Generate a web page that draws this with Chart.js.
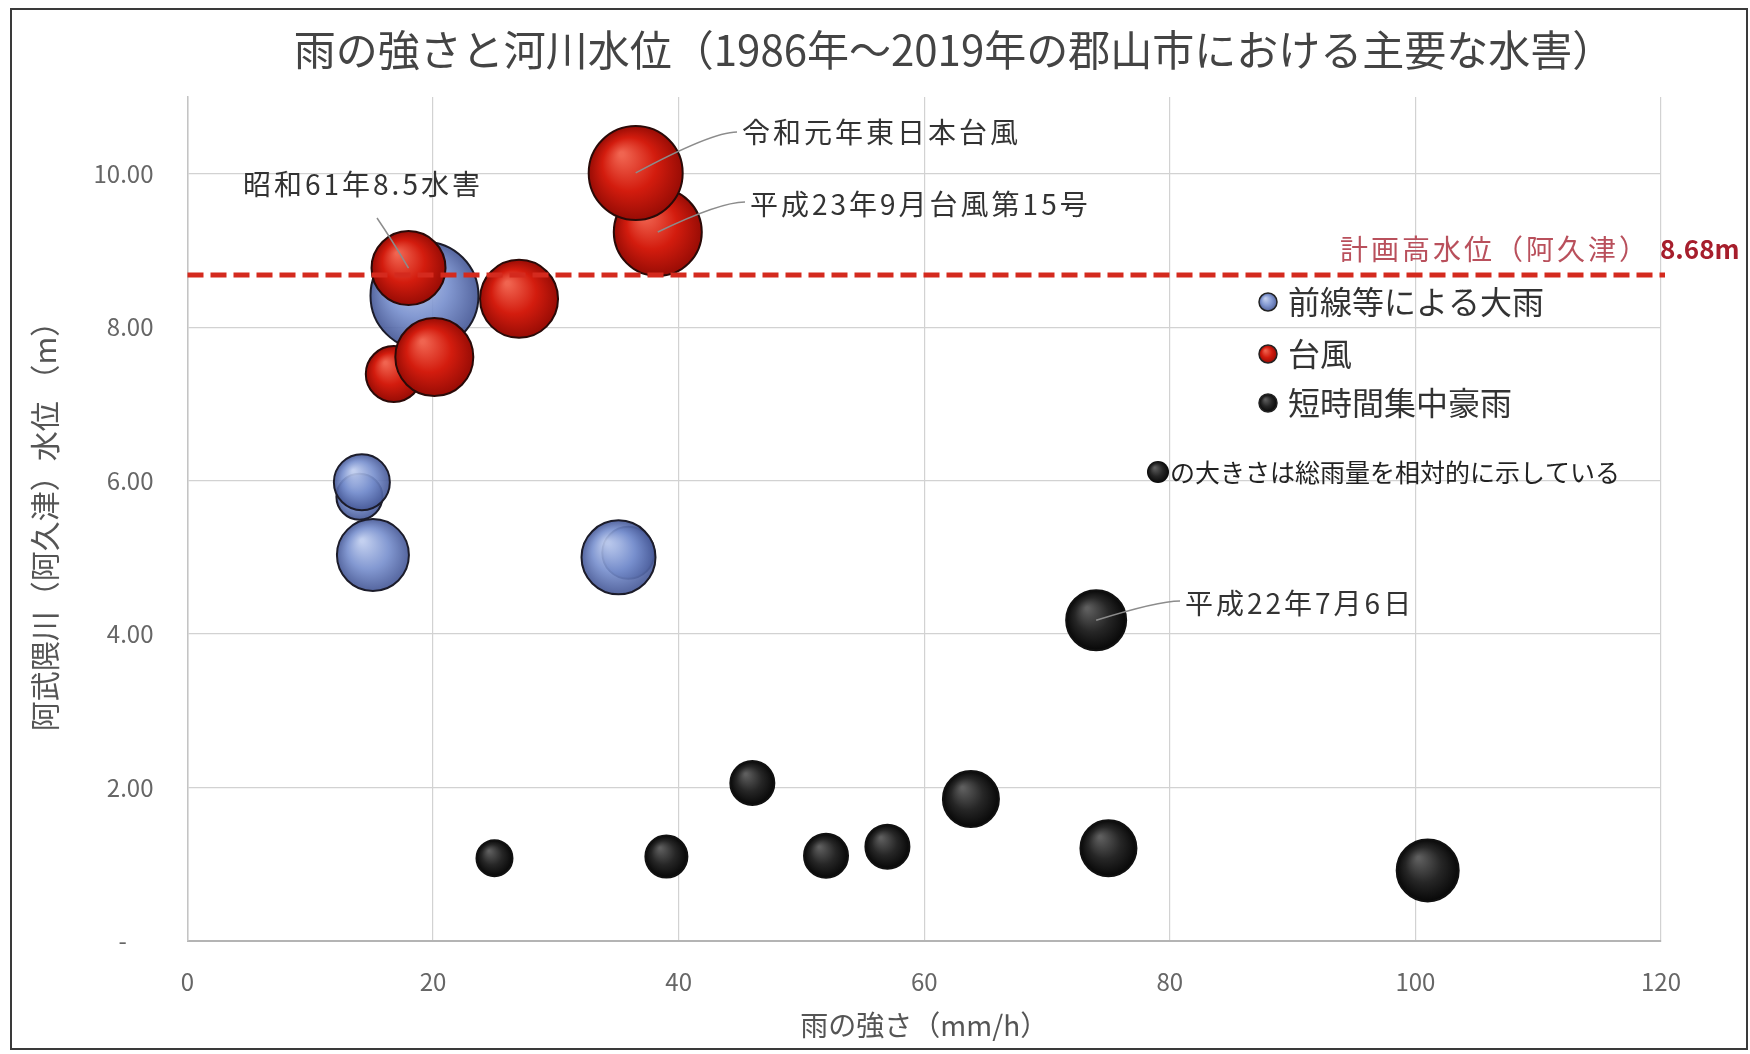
<!DOCTYPE html>
<html lang="ja">
<head>
<meta charset="utf-8">
<script src="https://cdn.jsdelivr.net/npm/chart.js@4.4.1/dist/chart.umd.min.js"></script>
<style>
  html, body { margin: 0; padding: 0; background: #fff; }
  #wrap { width: 1750px; height: 1054px; }
</style>
</head>
<body>
<div id="wrap"><canvas id="myChart"></canvas></div>
<script>
// 系列名
const seriesNames = ['前線等による大雨', '台風', '短時間集中豪雨'];

// 前線等による大雨 (雨の強さ mm/h, 水位 m, 総雨量の相対値)
const frontX = [19.3, 14.0, 14.2, 15.1, 35.9, 35.1];
const frontY = [8.41, 5.79, 5.98, 5.03, 5.06, 5.00];
const frontRain = [270, 115, 140, 180, 130, 185];

// 台風
const typhoonX = [16.8, 20.1, 27.0, 18.0, 38.3, 36.5];
const typhoonY = [7.39, 7.61, 8.37, 8.77, 9.24, 10.01];
const typhoonRain = [140, 195, 195, 185, 220, 235];

// 短時間集中豪雨
const shortX = [25.0, 39.0, 46.0, 52.0, 57.0, 63.8, 74.0, 75.0, 101.0];
const shortY = [1.08, 1.10, 2.06, 1.11, 1.23, 1.85, 4.18, 1.21, 0.92];
const shortRain = [90, 105, 110, 110, 110, 140, 150, 140, 155];

// 計画高水位
const planHigh = 8.68;

// 軸の目盛
const xTicks = [0, 20, 40, 60, 80, 100, 120];
const yTicks = [0, 2, 4, 6, 8, 10];

// 総雨量 -> 半径
const rainToRadius = v => v / 5;

function points(xs, ys, rains) {
    return xs.map((x, i) => ({ x: x, y: ys[i], r: rainToRadius(rains[i]) }));
}

// 球っぽいグラデーション
const palette = {
    blue:  { light: 'rgba(190,204,238,0.92)', base: 'rgba(118,142,205,0.9)', dark: 'rgba(70,88,150,0.92)' },
    red:   { light: '#f06450', base: '#d31c0e', dark: '#980c05' },
    black: { light: '#5e5e5e', base: '#262626', dark: '#080808' }
};

function sphereFill(ctx, px, py, r, col) {
    const g = ctx.createRadialGradient(px - r * 0.3, py - r * 0.4, r * 0.05, px, py, r);
    g.addColorStop(0, col.light);
    g.addColorStop(0.55, col.base);
    g.addColorStop(1, col.dark);
    return g;
}

function sphere(col) {
    return function(c) {
        if (c.type !== 'data' || !c.raw) return col.base;
        const sx = c.chart.scales.x, sy = c.chart.scales.y;
        if (!sx || !sy) return col.base;
        const px = sx.getPixelForValue(c.raw.x);
        const py = sy.getPixelForValue(c.raw.y);
        if (!isFinite(px) || !isFinite(py)) return col.base;
        return sphereFill(c.chart.ctx, px, py, c.raw.r, col);
    };
}

const FONT = '"Noto Sans CJK JP", "Noto Sans", sans-serif';

// 注記 (系列, 番号, 文字位置)
const callouts = [
    { text: '昭和61年8.5水害', set: 1, idx: 3, tx: 243, ty: 184, lx: 377, ly: 218, cx: 392, cy: 240 },
    { text: '令和元年東日本台風', set: 1, idx: 5, tx: 742, ty: 132, lx: 737, ly: 132, cx: 712, cy: 132 },
    { text: '平成23年9月台風第15号', set: 1, idx: 4, tx: 750, ty: 204, lx: 745, ly: 202, cx: 720, cy: 202 },
    { text: '平成22年7月6日', set: 2, idx: 6, tx: 1185, ty: 603, lx: 1180, ly: 601, cx: 1158, cy: 601 }
];

const overlay = {
    id: 'overlay',
    beforeDraw(chart) {
        const ctx = chart.ctx;
        ctx.save();
        ctx.fillStyle = '#fff';
        ctx.fillRect(0, 0, chart.width, chart.height);
        ctx.restore();
    },
    afterDatasetsDraw(chart) {
        const ctx = chart.ctx;
        const area = chart.chartArea;
        const yPix = chart.scales.y.getPixelForValue(planHigh);

        // 計画高水位の破線
        ctx.save();
        ctx.strokeStyle = '#d42a1e';
        ctx.lineWidth = 5;
        ctx.setLineDash([16, 7]);
        ctx.beginPath();
        ctx.moveTo(area.left, yPix);
        ctx.lineTo(area.right + 4, yPix);
        ctx.stroke();
        ctx.restore();

        // 引き出し線
        ctx.save();
        ctx.strokeStyle = '#8c8c8c';
        ctx.lineWidth = 1.5;
        callouts.forEach(c => {
            const p = chart.data.datasets[c.set].data[c.idx];
            const px = chart.scales.x.getPixelForValue(p.x);
            const py = chart.scales.y.getPixelForValue(p.y);
            ctx.beginPath();
            ctx.moveTo(c.lx, c.ly);
            ctx.quadraticCurveTo(c.cx, c.cy, px, py);
            ctx.stroke();
        });
        ctx.restore();
    },
    afterDraw(chart) {
        const ctx = chart.ctx;
        const yPix = chart.scales.y.getPixelForValue(planHigh);
        ctx.save();
        ctx.textBaseline = 'middle';

        // タイトル
        ctx.fillStyle = '#444';
        ctx.font = '42px ' + FONT;
        ctx.textAlign = 'center';
        ctx.fillText('雨の強さと河川水位（1986年～2019年の郡山市における主要な水害）', 954, 50);

        // 注記
        ctx.textAlign = 'left';
        ctx.fillStyle = '#333';
        ctx.font = '28px ' + FONT;
        ctx.letterSpacing = '3px';
        callouts.forEach(c => ctx.fillText(c.text, c.tx, c.ty));

        // 計画高水位ラベル
        ctx.fillStyle = '#b9505c';
        ctx.textAlign = 'right';
        ctx.fillText('計画高水位（阿久津）', 1650, yPix - 26);
        ctx.letterSpacing = '0px';
        ctx.fillStyle = '#a61e2c';
        ctx.textAlign = 'left';
        ctx.font = 'bold 26px ' + FONT;
        ctx.fillText('8.68m', 1660, yPix - 26);

        // 凡例
        const cols = [palette.blue, palette.red, palette.black];
        const legY = [302, 354, 403];
        ctx.font = '32px ' + FONT;
        seriesNames.forEach((name, i) => {
            ctx.beginPath();
            ctx.arc(1268, legY[i], 9, 0, Math.PI * 2);
            ctx.fillStyle = sphereFill(ctx, 1268, legY[i], 9, cols[i]);
            ctx.fill();
            ctx.lineWidth = 1.5;
            ctx.strokeStyle = '#222';
            ctx.stroke();
            ctx.fillStyle = '#333';
            ctx.fillText(name, 1288, legY[i]);
        });

        // 大きさの説明
        ctx.beginPath();
        ctx.arc(1158, 472, 11, 0, Math.PI * 2);
        ctx.fillStyle = sphereFill(ctx, 1158, 472, 11, palette.black);
        ctx.fill();
        ctx.fillStyle = '#222';
        ctx.font = '25px ' + FONT;
        ctx.fillText('の大きさは総雨量を相対的に示している', 1170, 472);

        // 外枠
        ctx.strokeStyle = '#3a3a3a';
        ctx.lineWidth = 2;
        ctx.strokeRect(11, 9, 1736, 1040);
        ctx.restore();
    }
};

let ctx = document.getElementById('myChart');

let config = {
    type: 'bubble',
    data: {
        datasets: [
            {
                label: seriesNames[0],
                data: points(frontX, frontY, frontRain),
                backgroundColor: sphere(palette.blue),
                borderColor: '#1c1c2a',
                borderWidth: 2,
                order: 3
            },
            {
                label: seriesNames[1],
                data: points(typhoonX, typhoonY, typhoonRain),
                backgroundColor: sphere(palette.red),
                borderColor: '#2a0a08',
                borderWidth: 2,
                order: 1
            },
            {
                label: seriesNames[2],
                data: points(shortX, shortY, shortRain),
                backgroundColor: sphere(palette.black),
                borderColor: '#111',
                borderWidth: 2,
                order: 2
            }
        ]
    },
    options: {
        responsive: true,
        maintainAspectRatio: false,
        animation: false,
        layout: { padding: { left: 0, top: 97, right: 89, bottom: 0 } },
        plugins: {
            legend: { display: false },
            tooltip: { enabled: false },
            title: { display: false }
        },
        scales: {
            x: {
                type: 'linear',
                min: 0,
                max: 120,
                afterBuildTicks: axis => { axis.ticks = xTicks.map(v => ({ value: v })); },
                afterFit: axis => { axis.height = 113; },
                grid: { color: '#d2d2d2', lineWidth: 1.2, drawTicks: false },
                border: { display: true, color: '#b4b4b4', width: 2 },
                ticks: {
                    padding: 26,
                    color: '#666',
                    font: { size: 24, family: FONT }
                },
                title: {
                    display: true,
                    text: '雨の強さ（mm/h）',
                    color: '#555',
                    font: { size: 28, family: FONT },
                    padding: { top: 0, bottom: 12 }
                }
            },
            y: {
                type: 'linear',
                min: 0,
                max: 11,
                afterBuildTicks: axis => { axis.ticks = yTicks.map(v => ({ value: v })); },
                afterFit: axis => { axis.width = 187.5; },
                grid: { color: '#d2d2d2', lineWidth: 1.2, drawTicks: false },
                border: { display: true, color: '#c4c4c4', width: 1.5 },
                ticks: {
                    padding: 34,
                    color: '#666',
                    font: { size: 24, family: FONT },
                    callback: v => v === 0 ? '-\u2007\u2007' : Number(v).toFixed(2)
                },
                title: {
                    display: true,
                    text: '阿武隈川（阿久津）水位 （m）',
                    color: '#555',
                    font: { size: 30, family: FONT },
                    padding: { top: 27, bottom: 0 }
                }
            }
        }
    },
    plugins: [overlay]
};

let myChart = new Chart(ctx, config);
</script>
</body>
</html>
